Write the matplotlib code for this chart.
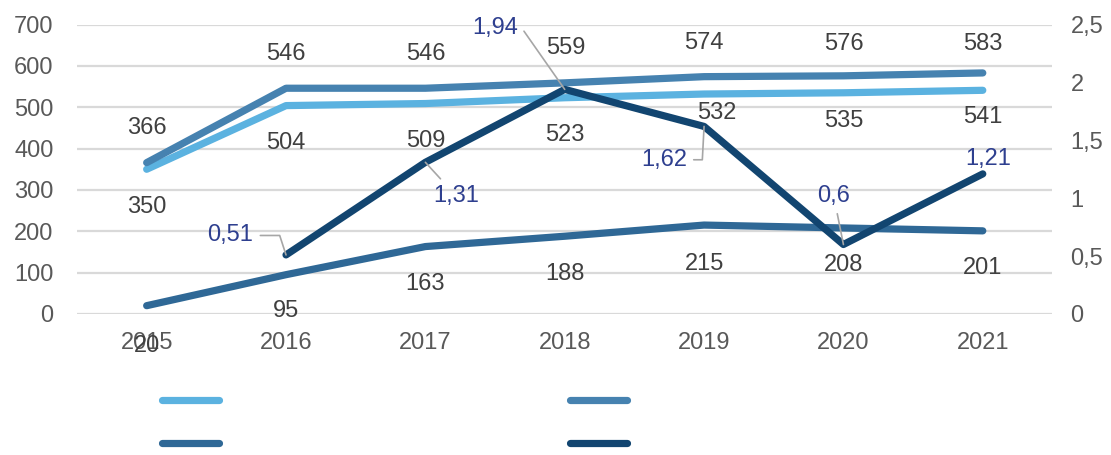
import matplotlib.pyplot as plt

plt.rcParams['font.family'] = ['Liberation Sans', 'DejaVu Sans']

years = ["2015", "2016", "2017", "2018", "2019", "2020", "2021"]
series_a = [350, 504, 509, 523, 532, 535, 541]
series_b = [366, 546, 546, 559, 574, 576, 583]
series_c = [20, 95, 163, 188, 215, 208, 201]
ratio_years = ["2016", "2017", "2018", "2019", "2020", "2021"]
ratio = [0.51, 1.31, 1.94, 1.62, 0.6, 1.21]

right_ticks = [0, 0.5, 1, 1.5, 2, 2.5]

c_a = "#5bb2e0"
c_b = "#4682b0"
c_c = "#2f6896"
c_r = "#124570"
txt = "#404040"
tick_c = "#595959"
lbl_r = "#2e3f8f"


def fmt(v):
    return f"{v:g}".replace(".", ",")


fig = plt.figure(figsize=(11.11, 4.55), dpi=100)
ax = fig.add_axes([0.0693, 0.31, 0.878, 0.636])
ax2 = ax.twinx()

x = list(range(len(years)))
xr = [years.index(y) for y in ratio_years]

lw = 5.2
la, = ax.plot(x, series_a, color=c_a, lw=lw, solid_capstyle='round', solid_joinstyle='round')
lb, = ax.plot(x, series_b, color=c_b, lw=lw, solid_capstyle='round', solid_joinstyle='round')
lc, = ax.plot(x, series_c, color=c_c, lw=lw, solid_capstyle='round', solid_joinstyle='round')
lr, = ax2.plot(xr, ratio, color=c_r, lw=lw, solid_capstyle='round', solid_joinstyle='round')

ax.set_xlim(-0.5, len(years) - 0.5)
ax.set_ylim(0, 700)
ax2.set_ylim(0, 2.5)
ax.set_yticks(range(0, 701, 100))
ax2.set_yticks(right_ticks)
ax2.set_yticklabels([fmt(t) for t in right_ticks])
ax.set_xticks(x)
ax.set_xticklabels(years)

fs = 17
for a in (ax, ax2):
    for s in a.spines.values():
        s.set_visible(False)
ax.grid(axis='y', color="#d9d9d9", lw=1.6)
ax.set_axisbelow(True)
ax.tick_params(axis='y', length=0, pad=17, labelsize=fs, labelcolor=tick_c)
ax.tick_params(axis='x', length=0, pad=13, labelsize=fs, labelcolor=tick_c)
ax2.tick_params(axis='y', length=0, pad=13, labelsize=fs, labelcolor=tick_c)

# value labels: offsets in points
off_a = [(0, -27), (0, -27), (0, -27), (0, -27), (9, -14), (0, -20), (0, -19)]
off_b = [(0, 25), (0, 25), (0, 25), (1, 25), (0, 24), (0, 23), (0, 21)]
off_c = [(0, -29), (0, -26), (0, -27), (0, -27), (0, -28), (0, -27), (0, -27)]
for vals, offs in ((series_a, off_a), (series_b, off_b), (series_c, off_c)):
    for xi, v, o in zip(x, vals, offs):
        ax.annotate(str(v), (xi, v), xytext=o, textcoords='offset points',
                    ha='center', va='center', fontsize=fs, color=txt)

# ratio labels with leader lines
off_r = [(-40, 14), (22, -24), (-50, 44), (-29, -24), (-7, 35), (4, 11)]
conn_r = ["angle,angleA=0,angleB=108,rad=0", "arc3", "angle,angleA=0,angleB=125,rad=0",
          "angle,angleA=0,angleB=87,rad=0", "arc3", None]
for xi, v, o, cs in zip(xr, ratio, off_r, conn_r):
    kw = {}
    if cs:
        kw['arrowprops'] = dict(arrowstyle='-', color="#a6a6a6", lw=1.2,
                                connectionstyle=cs, shrinkA=3, shrinkB=0)
    ax2.annotate(fmt(v), (xi, v), xytext=o, textcoords='offset points',
                 ha='center', va='center', fontsize=fs, color=lbl_r, **kw)

# legend rows: light / medium on top, dark / navy below
legend_pos = [(la, 0.146, 0.116), (lb, 0.513, 0.116), (lc, 0.146, 0.022), (lr, 0.513, 0.022)]
for h, lx, ly in legend_pos:
    fig.legend(handles=[h], labels=[" "], loc='center left', bbox_to_anchor=(lx, ly),
               frameon=False, handlelength=2.4, borderpad=0, borderaxespad=0,
               handletextpad=0.2, fontsize=fs)

fig.savefig("out.png", dpi=100)
